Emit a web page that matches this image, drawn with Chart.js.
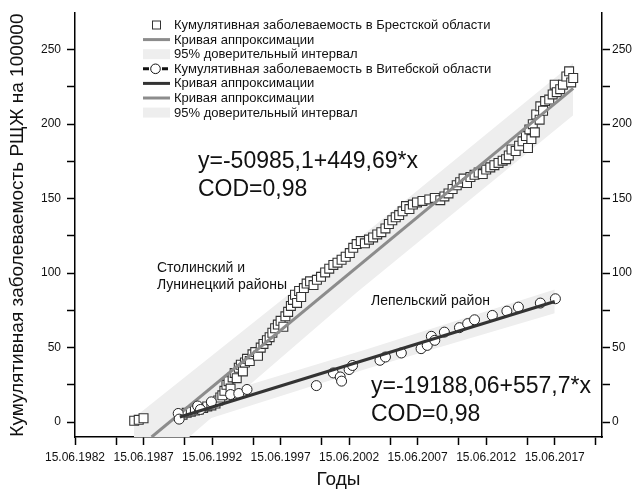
<!DOCTYPE html>
<html>
<head>
<meta charset="utf-8">
<script src="https://cdn.jsdelivr.net/npm/chart.js@4.4.0/dist/chart.umd.min.js"></script>
<style>
  html, body { margin: 0; padding: 0; background: #fff; }
</style>
</head>
<body>
<canvas id="myChart" width="633" height="489"></canvas>
<script>
// Брестская область: кумулятивная заболеваемость (годы, на 100000)
const brestX = [1986.77, 1987.1, 1987.45,
  1990.3, 1990.6, 1990.9, 1991.2, 1991.5, 1991.8, 1992.1, 1992.4, 1992.7, 1992.9,
  1993.05, 1993.2, 1993.35, 1993.5, 1993.65, 1993.8, 1993.95, 1994.1, 1994.25, 1994.4,
  1994.55, 1994.7, 1994.85, 1995.0, 1995.2, 1995.4, 1995.6, 1995.8, 1996.0, 1996.2,
  1996.45, 1996.65, 1996.85, 1997.05, 1997.25, 1997.45, 1997.65, 1997.8, 1998.0, 1998.2,
  1998.35, 1998.5, 1998.65, 1998.8, 1998.95, 1999.15, 1999.35, 1999.6, 1999.85, 2000.1,
  2000.4, 2000.7, 2001.0, 2001.3, 2001.6, 2001.9, 2002.2, 2002.5, 2002.75, 2003.0,
  2003.3, 2003.6, 2003.9, 2004.2, 2004.5, 2004.8, 2005.1, 2005.35, 2005.6, 2005.85,
  2006.1, 2006.35, 2006.6, 2006.85, 2007.1, 2007.4, 2007.8, 2008.3, 2008.7, 2009.1,
  2009.4, 2009.7, 2010.0, 2010.3, 2010.55, 2010.8, 2011.05, 2011.3, 2011.6, 2011.9,
  2012.2, 2012.45, 2012.75, 2013.05, 2013.35, 2013.65, 2013.9, 2014.1, 2014.3, 2014.6,
  2014.85, 2015.1, 2015.35, 2015.5, 2015.6, 2015.75, 2015.85, 2016.0, 2016.1, 2016.35,
  2016.4, 2016.6, 2016.75, 2017.05, 2017.3, 2017.45, 2017.6, 2017.85, 2018.05, 2018.3,
  2018.5, 2018.65, 2018.8];
const brestY = [0.9, 1.5, 2.6,
  5.0, 6.2, 7.0, 7.8, 8.5, 9.5, 10.5, 11.2, 12.5, 14.5,
  16.5, 18.0, 21.0, 25.0, 27.5, 22.5, 30.0, 33.0, 29.5, 36.5,
  38.5, 34.0, 40.0, 42.5, 41.0, 45.5, 47.0, 44.5, 50.0, 52.5,
  55.0, 57.0, 60.0, 63.0, 65.5, 68.0, 64.0, 71.0, 74.0, 78.0,
  82.0, 85.5, 80.0, 88.0, 84.0, 90.0, 93.0, 94.5, 92.0, 95.5,
  97.5, 100.5, 103.0, 105.5, 107.0, 109.0, 111.0, 113.5, 117.0, 119.5,
  121.5, 120.0, 122.5, 124.0, 126.0, 127.5, 130.0, 133.0, 135.5, 137.5,
  139.0, 141.5, 145.0, 143.0, 146.0, 147.5, 148.5, 149.5, 150.5, 149.0,
  151.5, 153.5, 156.5, 159.0, 161.0, 163.5, 160.5, 164.5, 166.0, 167.5,
  166.5, 169.5, 171.0, 172.5, 174.0, 175.5, 176.5, 179.0, 183.0, 182.0,
  185.5, 188.5, 192.0, 184.0, 196.5, 190.0, 200.0, 194.5, 206.5, 203.0,
  212.0, 209.0, 215.5, 216.5, 220.0, 226.5, 221.5, 223.5, 226.5, 232.0,
  235.5, 228.0, 231.0];

// Витебская область (Лепельский район)
const vitebskX = [1989.98, 1990.05, 1991.4, 1991.6, 1992.4, 1993.8, 1994.4, 1995.0,
  2000.06, 2001.3, 2001.8, 2001.9, 2002.45, 2002.7, 2004.7, 2005.1, 2006.26, 2007.7,
  2008.15, 2008.45, 2008.7, 2009.4, 2010.5, 2011.1, 2011.6, 2012.9, 2013.96, 2014.8,
  2016.4, 2017.5];
const vitebskY = [5.8, 2.0, 10.8, 8.5, 13.6, 18.5, 19.2, 21.9,
  24.5, 33.0, 30.3, 27.5, 35.3, 38.0, 41.5, 43.7, 46.4, 49.3,
  51.5, 57.6, 54.9, 60.4, 63.4, 66.1, 68.7, 71.6, 74.5, 77.2,
  79.9, 82.8];

// кривые аппроксимации (концы отрезков)
const brestFitX = [1988.04, 2018.8];
const brestFitY = [-10, 224];
const vitebskFitX = [1990.1, 2017.45];
const vitebskFitY = [3.4, 81];

// 95% доверительные интервалы
const brestBandX = [1986.75, 2003.0, 2018.8];
const brestBandLow = [-42, 87, 206];
const brestBandHigh = [3, 122, 241];
const vitebskBandX = [1990.1, 2003.8, 2017.45];
const vitebskBandLow = [-4, 36, 73];
const vitebskBandHigh = [11, 49, 89];

// оси
const xMajorTicks = [1982.45, 1987.45, 1992.45, 1997.45, 2002.45, 2007.45, 2012.45, 2017.45];
const xMinorTicks = [1985.45, 1990.45, 1995.45, 2000.45, 2005.45, 2010.45, 2015.45, 2020.45];
const xTickLabels = ['15.06.1982', '15.06.1987', '15.06.1992', '15.06.1997',
  '15.06.2002', '15.06.2007', '15.06.2012', '15.06.2017'];
const yTicks = [0, 25, 50, 75, 100, 125, 150, 175, 200, 225, 250];
const yLabelStep = 50;

const FONT = "'Liberation Sans', Arial, sans-serif";

function pairs(xs, ys) {
  return xs.map((x, i) => ({ x: x, y: ys[i] }));
}

const overlay = {
  id: 'overlay',
  afterDraw(chart) {
    const ctx = chart.ctx;
    ctx.save();
    ctx.textBaseline = 'middle';
    ctx.textAlign = 'left';

    // легенда
    const rows = [
      { kind: 'square', text: 'Кумулятивная заболеваемость в Брестской области' },
      { kind: 'line', color: '#8c8c8c', text: 'Кривая аппроксимации' },
      { kind: 'box', text: '95% доверительный интервал' },
      { kind: 'circle', text: 'Кумулятивная заболеваемость в Витебской области' },
      { kind: 'line', color: '#333333', text: 'Кривая аппроксимации' },
      { kind: 'line', color: '#8c8c8c', text: 'Кривая аппроксимации' },
      { kind: 'box', text: '95% доверительный интервал' }
    ];
    rows.forEach((r, i) => {
      const y = 25 + i * 14.6;
      if (r.kind === 'square') {
        ctx.fillStyle = '#fff';
        ctx.strokeStyle = '#333';
        ctx.lineWidth = 1;
        ctx.fillRect(152.5, y - 4, 8, 8);
        ctx.strokeRect(152.5, y - 4, 8, 8);
      } else if (r.kind === 'line') {
        ctx.strokeStyle = r.color;
        ctx.lineWidth = 3;
        ctx.beginPath();
        ctx.moveTo(143, y);
        ctx.lineTo(170, y);
        ctx.stroke();
      } else if (r.kind === 'box') {
        ctx.fillStyle = '#eeeeee';
        ctx.fillRect(143, y - 5, 27, 10);
      } else if (r.kind === 'circle') {
        ctx.strokeStyle = '#111';
        ctx.lineWidth = 3;
        ctx.beginPath();
        ctx.moveTo(143, y); ctx.lineTo(149, y);
        ctx.moveTo(162, y); ctx.lineTo(168, y);
        ctx.stroke();
        ctx.lineWidth = 1;
        ctx.fillStyle = '#fff';
        ctx.beginPath();
        ctx.arc(155.5, y, 4.8, 0, Math.PI * 2);
        ctx.fill();
        ctx.stroke();
      }
      ctx.fillStyle = '#111';
      ctx.font = '13px ' + FONT;
      ctx.fillText(r.text, 174, y + 0.5);
    });

    // уравнения и подписи
    ctx.fillStyle = '#111';
    ctx.font = '23px ' + FONT;
    ctx.fillText('y=-50985,1+449,69*x', 198, 162);
    ctx.fillText('COD=0,98', 198, 190);
    ctx.fillText('y=-19188,06+557,7*x', 371, 387);
    ctx.fillText('COD=0,98', 371, 415);

    ctx.font = '14px ' + FONT;
    ctx.fillText('Столинский и', 157, 268);
    ctx.fillText('Лунинецкий районы', 157, 285);
    ctx.fillText('Лепельский район', 371, 301);
    ctx.restore();
  }
};

const lineStyle = { showLine: true, pointRadius: 0, tension: 0, fill: false };
const bandStyle = { showLine: true, pointRadius: 0, borderWidth: 0, borderColor: 'rgba(0,0,0,0)',
  backgroundColor: '#eeeeee', tension: 0 };

const ctx = document.getElementById('myChart');
const chart = new Chart(ctx, {
  type: 'line',
  data: {
    datasets: [
      Object.assign({ label: 'vitebskFit', data: pairs(vitebskFitX, vitebskFitY),
        borderColor: '#333333', borderWidth: 3, order: 0 }, lineStyle),
      { label: 'vitebsk', data: pairs(vitebskX, vitebskY), showLine: false,
        pointStyle: 'circle', pointRadius: 5, pointBackgroundColor: '#fff',
        pointBorderColor: '#222', pointBorderWidth: 1, order: 1 },
      Object.assign({ label: 'brestFit', data: pairs(brestFitX, brestFitY),
        borderColor: '#8c8c8c', borderWidth: 3, order: 2 }, lineStyle),
      { label: 'brest', data: pairs(brestX, brestY), showLine: false,
        pointStyle: 'rect', pointRadius: 6.3, pointBackgroundColor: '#fff',
        pointBorderColor: '#333', pointBorderWidth: 1.1, order: 3 },
      Object.assign({ label: 'vitebskLow', data: pairs(vitebskBandX, vitebskBandLow), fill: false, order: 4 }, bandStyle),
      Object.assign({ label: 'vitebskHigh', data: pairs(vitebskBandX, vitebskBandHigh), fill: 4, order: 5 }, bandStyle),
      Object.assign({ label: 'brestLow', data: pairs(brestBandX, brestBandLow), fill: false, order: 6 }, bandStyle),
      Object.assign({ label: 'brestHigh', data: pairs(brestBandX, brestBandHigh), fill: 6, order: 7 }, bandStyle)
    ]
  },
  options: {
    responsive: false,
    animation: false,
    layout: { padding: { top: 12, left: 0, right: 0, bottom: 0 } },
    plugins: {
      legend: { display: false },
      tooltip: { enabled: false }
    },
    scales: {
      x: {
        type: 'linear',
        position: 'bottom',
        min: 1982.45,
        max: 2020.9,
        afterBuildTicks: function (scale) {
          scale.ticks = xMajorTicks.concat(xMinorTicks).sort((a, b) => a - b).map(v => ({ value: v }));
        },
        afterFit: function (scale) { scale.height = 52; },
        ticks: {
          autoSkip: false,
          maxRotation: 0,
          padding: 5,
          color: '#111',
          font: { family: FONT, size: 12 },
          callback: function (value) {
            const i = xMajorTicks.findIndex(t => Math.abs(t - value) < 0.01);
            return i >= 0 ? xTickLabels[i] : '';
          }
        },
        grid: { drawOnChartArea: false, drawTicks: true, tickLength: 8, tickColor: '#000', tickWidth: 1.5 },
        border: { display: true, color: '#000', width: 1.5 },
        title: { display: true, text: 'Годы', color: '#111',
          font: { family: FONT, size: 19, lineHeight: 1.0 }, padding: { top: 0, bottom: 0 } }
      },
      y: {
        type: 'linear',
        position: 'left',
        min: -10,
        max: 274.5,
        afterBuildTicks: function (scale) { scale.ticks = yTicks.map(v => ({ value: v })); },
        afterFit: function (scale) { scale.width = 75; },
        ticks: {
          padding: 6,
          color: '#111',
          font: { family: FONT, size: 12 },
          callback: function (value) { return value % yLabelStep === 0 ? String(value) : ''; }
        },
        grid: { drawOnChartArea: false, drawTicks: true, tickLength: 8, tickColor: '#000', tickWidth: 1.5 },
        border: { display: true, color: '#000', width: 1.5 },
        title: { display: true, text: 'Кумулятивная заболеваемость РЩЖ на 100000', color: '#111',
          font: { family: FONT, size: 19 }, padding: { top: 6, bottom: 0 } }
      },
      y2: {
        type: 'linear',
        position: 'right',
        min: -10,
        max: 274.5,
        afterBuildTicks: function (scale) { scale.ticks = yTicks.map(v => ({ value: v })); },
        afterFit: function (scale) { scale.width = 31; },
        ticks: {
          padding: 2,
          color: '#111',
          font: { family: FONT, size: 12 },
          callback: function (value) { return value % yLabelStep === 0 ? String(value) : ''; }
        },
        grid: { drawOnChartArea: false, drawTicks: true, tickLength: 8, tickColor: '#000', tickWidth: 1.5 },
        border: { display: true, color: '#000', width: 1.5 }
      }
    }
  },
  plugins: [overlay]
});
</script>
</body>
</html>
